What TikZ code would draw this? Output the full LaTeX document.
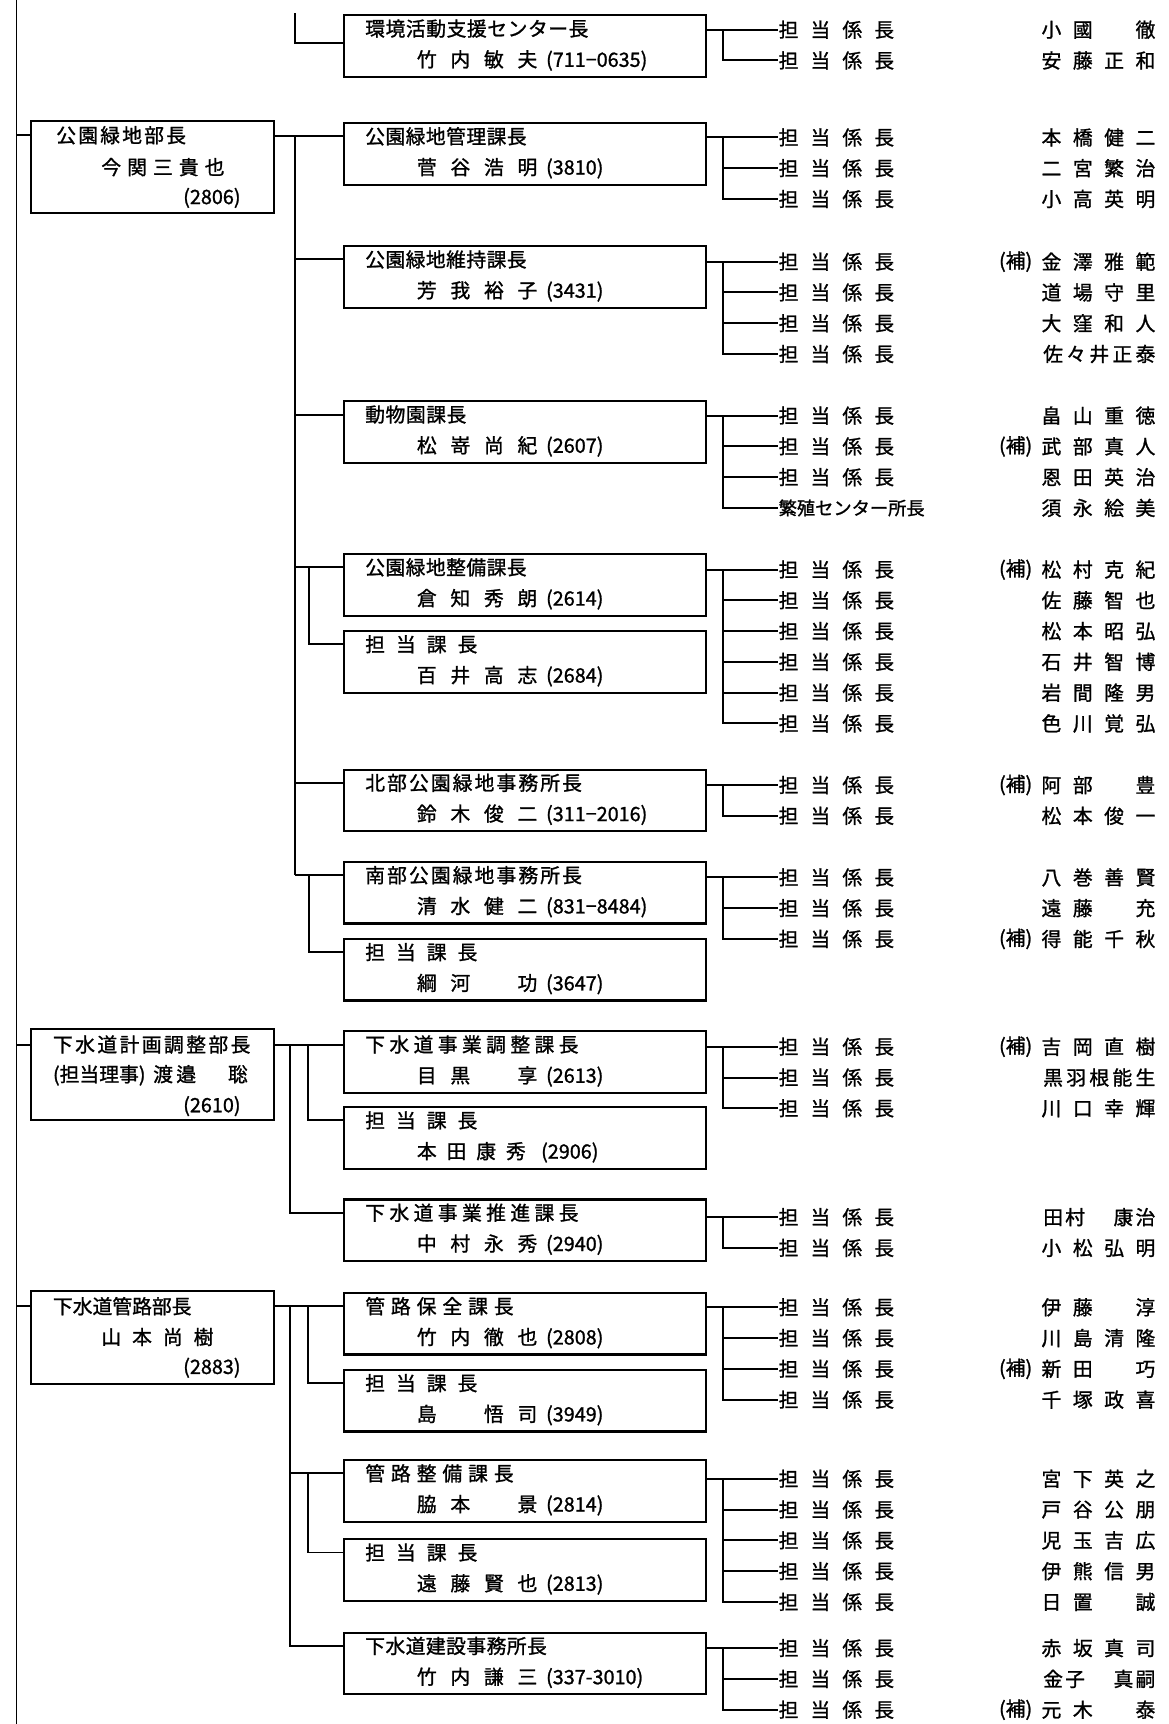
\documentclass[tikz,border=0pt]{standalone}
\usepackage{fontspec}
\newfontfamily\jp[FakeBold=1.2]{Noto Sans CJK JP}
\makeatletter
\def\sp@end{\sp@end}
\newcommand\spaced[2]{\begingroup\def\sp@gap{\hspace*{#1}}\sp@first#2\sp@end\endgroup}
\def\sp@first#1{#1\sp@next}
\def\sp@next#1{\ifx#1\sp@end\else\sp@gap#1\expandafter\sp@next\fi}
\makeatother
\newcommand\bl{\phantom{国}}
\newcommand\kk{\spaced{11pt}{担当係長}}
\newcommand\nm[1]{\spaced{10.5pt}{#1}}
\newcommand\nmf[1]{\spaced{3pt}{#1}}
\newcommand\lnm[1]{\spaced{12.5pt}{#1}}
\tikzset{
  conn/.style={line width=1.8pt},
  mainline/.style={line width=1.8pt},
  ubox/.style={draw, line width=2pt, anchor=north west, minimum width=329pt, minimum height=56pt, inner sep=0pt, outer sep=0pt},
  dbox/.style={draw, line width=2pt, anchor=north west, minimum width=221pt, inner sep=0pt, outer sep=0pt},
  txt/.style={font=\jp\fontsize{18pt}{18pt}\selectfont, inner sep=0pt, anchor=west},
  rtxt/.style={txt, anchor=east},
}
% row: id, y, name
\newcommand\kr[3]{\node[txt] (#1) at (708,#2) {\kk}; \node[rtxt] (#1n) at (1051,#2) {#3};}
\newcommand\hj[2]{\node[rtxt] (#1h) at (939,#2) {(補)};}
% unit box: id, top, header, line2
\newcommand\ubx[4]{\node[ubox] (#1) at (313,#2) {}; \node[txt] (#1h) at (332,#2+12) {#3}; \node[txt] (#1n) at (379,#2+41) {#4};}
\begin{document}
\begin{tikzpicture}[x=1pt,y=-1pt]
\useasboundingbox (0,0) rectangle (1063,1568);
% helper coordinates
\coordinate (ltop) at (15,0);
\coordinate (lbot) at (15,1568);
\coordinate (busB) at (268,0);
\coordinate (secB) at (281,0);
\coordinate (busC) at (264,0);
\coordinate (secC) at (280,0);
\coordinate (rbus) at (658,0);
\draw[mainline] (ltop) -- (lbot);

% ---------------- Section A
\ubx{bA}{14}{\spaced{0.5pt}{環境活動支援センター長}}{\lnm{竹内敏夫}\hspace{8pt}(711−0635)}
\coordinate (aTop) at (268,12);
\coordinate (aJ) at (268,39);
\draw[conn] (aTop) -- (aJ) -- (aJ -| bA.west);
\kr{rA1}{27}{\nm{小國\bl 徹}}
\kr{rA2}{55}{\nm{安藤正和}}
\draw[conn] (bA.east |- rA1.west) -- (rA1.west);
\draw[conn] (rbus |- rA1.west) |- (rA2.west);

% ---------------- Section B
\node[dbox, minimum height=84pt] (dB) at (28,110) {};
\node[txt] (dBh) at (51,123) {\spaced{2pt}{公園緑地部長}};
\node[txt] (dBn) at (92,152) {\spaced{5.5pt}{今関三貴也}};
\node[rtxt] (dBt) at (219,180) {(2806)};
\draw[conn] (ltop |- dBh.west) -- (dB.west |- dBh.west);

\ubx{bB1}{112}{\spaced{0.4pt}{公園緑地管理課長}}{\lnm{菅谷浩明}\hspace{8pt}(3810)}
\ubx{bB2}{224}{\spaced{0.4pt}{公園緑地維持課長}}{\lnm{芳我裕子}\hspace{8pt}(3431)}
\ubx{bB3}{365}{\spaced{0.5pt}{動物園課長}}{\lnm{松嵜尚紀}\hspace{8pt}(2607)}
\ubx{bB4}{504}{\spaced{0.4pt}{公園緑地整備課長}}{\lnm{倉知秀朗}\hspace{8pt}(2614)}
\ubx{bB5}{574}{\spaced{10pt}{担当課長}}{\lnm{百井高志}\hspace{8pt}(2684)}
\ubx{bB6}{700}{\spaced{1.9pt}{北部公園緑地事務所長}}{\lnm{鈴木俊二}\hspace{8pt}(311−2016)}
\ubx{bB7}{784}{\spaced{1.9pt}{南部公園緑地事務所長}}{\lnm{清水健二}\hspace{8pt}(831−8484)}
\ubx{bB8}{854}{\spaced{10pt}{担当課長}}{\lnm{綱河\bl 功}\hspace{8pt}(3647)}

\draw[conn] (dB.east |- bB1h.west) -- (bB1.west |- bB1h.west);
\draw[conn] (busB |- bB1h.west) -- (busB |- bB7h.west);
\draw[conn] (busB |- bB2h.west) -- (bB2.west |- bB2h.west);
\draw[conn] (busB |- bB3h.west) -- (bB3.west |- bB3h.west);
\draw[conn] (busB |- bB4h.west) -- (bB4.west |- bB4h.west);
\draw[conn] (busB |- bB6h.west) -- (bB6.west |- bB6h.west);
\draw[conn] (busB |- bB7h.west) -- (bB7.west |- bB7h.west);
\draw[conn] (secB |- bB4h.west) |- (bB5.west |- bB5h.west);
\draw[conn] (secB |- bB7h.west) |- (bB8.west |- bB8h.west);

% rows B1
\kr{rB1a}{125}{\nm{本橋健二}}
\kr{rB1b}{153}{\nm{二宮繁治}}
\kr{rB1c}{181}{\nm{小高英明}}
\draw[conn] (bB1.east |- rB1a.west) -- (rB1a.west);
\draw[conn] (rbus |- rB1a.west) |- (rB1c.west);
\draw[conn] (rbus |- rB1b.west) -- (rB1b.west);
% rows B2
\kr{rB2a}{238}{\nm{金澤雅範}} \hj{rB2a}{238}
\kr{rB2b}{266}{\nm{道場守里}}
\kr{rB2c}{294}{\nm{大窪和人}}
\kr{rB2d}{322}{\nmf{佐々井正泰}}
\draw[conn] (bB2.east |- rB2a.west) -- (rB2a.west);
\draw[conn] (rbus |- rB2a.west) |- (rB2d.west);
\draw[conn] (rbus |- rB2b.west) -- (rB2b.west);
\draw[conn] (rbus |- rB2c.west) -- (rB2c.west);
% rows B3
\kr{rB3a}{378}{\nm{畠山重徳}}
\kr{rB3b}{406}{\nm{武部真人}} \hj{rB3b}{406}
\kr{rB3c}{434}{\nm{恩田英治}}
\node[txt, font=\jp\fontsize{16.6pt}{17pt}\selectfont] (rB3d) at (708,462) {繁殖センター所長};
\node[rtxt] (rB3dn) at (1051,462) {\nm{須永絵美}};
\draw[conn] (bB3.east |- rB3a.west) -- (rB3a.west);
\draw[conn] (rbus |- rB3a.west) |- (rB3d.west);
\draw[conn] (rbus |- rB3b.west) -- (rB3b.west);
\draw[conn] (rbus |- rB3c.west) -- (rB3c.west);
% rows B4
\kr{rB4a}{518}{\nm{松村克紀}} \hj{rB4a}{518}
\kr{rB4b}{546}{\nm{佐藤智也}}
\kr{rB4c}{574}{\nm{松本昭弘}}
\kr{rB4d}{602}{\nm{石井智博}}
\kr{rB4e}{630}{\nm{岩間隆男}}
\kr{rB4f}{658}{\nm{色川覚弘}}
\draw[conn] (bB4.east |- rB4a.west) -- (rB4a.west);
\draw[conn] (rbus |- rB4a.west) |- (rB4f.west);
\foreach \r in {rB4b,rB4c,rB4d,rB4e} \draw[conn] (rbus |- \r.west) -- (\r.west);
% rows B6
\kr{rB6a}{714}{\nm{阿部\bl 豊}} \hj{rB6a}{714}
\kr{rB6b}{742}{\nm{松本俊一}}
\draw[conn] (bB6.east |- rB6a.west) -- (rB6a.west);
\draw[conn] (rbus |- rB6a.west) |- (rB6b.west);
% rows B7
\kr{rB7a}{798}{\nm{八巻善賢}}
\kr{rB7b}{826}{\nm{遠藤\bl 充}}
\kr{rB7c}{854}{\nm{得能千秋}} \hj{rB7c}{854}
\draw[conn] (bB7.east |- rB7a.west) -- (rB7a.west);
\draw[conn] (rbus |- rB7a.west) |- (rB7c.west);
\draw[conn] (rbus |- rB7b.west) -- (rB7b.west);

% ---------------- Section C
\node[dbox, minimum height=83pt] (dC) at (28,936) {};
\node[txt] (dCh) at (48,950) {\spaced{2.2pt}{下水道計画調整部長}};
\node[txt] (dCn) at (48,978) {(担当理事)\hspace{7pt}\spaced{3pt}{渡邉}\hspace{29pt}聡};
\node[rtxt] (dCt) at (219,1006) {(2610)};
\draw[conn] (ltop |- dCh.west) -- (dC.west |- dCh.west);

\ubx{bC1}{938}{\spaced{4pt}{下水道事業調整課長}}{\lnm{目黒\bl 享}\hspace{8pt}(2613)}
\ubx{bC2}{1007}{\spaced{10pt}{担当課長}}{\spaced{9pt}{本田康秀}\hspace{14pt}(2906)}
\ubx{bC3}{1091}{\spaced{4pt}{下水道事業推進課長}}{\lnm{中村永秀}\hspace{8pt}(2940)}

\draw[conn] (dC.east |- bC1h.west) -- (bC1.west |- bC1h.west);
\draw[conn] (busC |- bC1h.west) |- (bC3.west |- bC3h.west);
\draw[conn] (secC |- bC1h.west) |- (bC2.west |- bC2h.west);

\kr{rC1a}{952}{\nm{吉岡直樹}} \hj{rC1a}{952}
\kr{rC1b}{980}{\nmf{黒羽根能生}}
\kr{rC1c}{1008}{\nm{川口幸輝}}
\draw[conn] (bC1.east |- rC1a.west) -- (rC1a.west);
\draw[conn] (rbus |- rC1a.west) |- (rC1c.west);
\draw[conn] (rbus |- rC1b.west) -- (rC1b.west);
\kr{rC3a}{1107}{\spaced{2pt}{田村}\hspace{26pt}\spaced{2pt}{康治}}
\kr{rC3b}{1135}{\nm{小松弘明}}
\draw[conn] (bC3.east |- rC3a.west) -- (rC3a.west);
\draw[conn] (rbus |- rC3a.west) |- (rC3b.west);

% ---------------- Section D
\node[dbox, minimum height=85pt] (dD) at (28,1174) {};
\node[txt] (dDh) at (48,1188) {下水道管路部長};
\node[txt] (dDn) at (92,1216) {\spaced{10pt}{山本尚樹}};
\node[rtxt] (dDt) at (219,1244) {(2883)};
\draw[conn] (ltop |- dDh.west) -- (dD.west |- dDh.west);

\ubx{bD1}{1176}{\spaced{5.4pt}{管路保全課長}}{\lnm{竹内徹也}\hspace{8pt}(2808)}
\ubx{bD2}{1246}{\spaced{10pt}{担当課長}}{\lnm{島\bl 悟司}\hspace{8pt}(3949)}
\ubx{bD3}{1328}{\spaced{5.4pt}{管路整備課長}}{\lnm{脇本\bl 景}\hspace{8pt}(2814)}
\ubx{bD4}{1400}{\spaced{10pt}{担当課長}}{\lnm{遠藤賢也}\hspace{8pt}(2813)}
\ubx{bD5}{1485}{\spaced{0.4pt}{下水道建設事務所長}}{\lnm{竹内謙三}\hspace{8pt}(337-3010)}

\draw[conn] (dD.east |- bD1h.west) -- (bD1.west |- bD1h.west);
\draw[conn] (busC |- bD1h.west) |- (bD5.west |- bD5h.west);
\draw[conn] (busC |- bD3h.west) -- (bD3.west |- bD3h.west);
\draw[conn] (secC |- bD1h.west) |- (bD2.west |- bD2h.west);
\draw[conn] (secC |- bD3h.west) |- (bD4.west |- bD4h.west);

\kr{rD1a}{1189}{\nm{伊藤\bl 淳}}
\kr{rD1b}{1217}{\nm{川島清隆}}
\kr{rD1c}{1245}{\nm{新田\bl 巧}} \hj{rD1c}{1245}
\kr{rD1d}{1273}{\nm{千塚政喜}}
\draw[conn] (bD1.east |- rD1a.west) -- (rD1a.west);
\draw[conn] (rbus |- rD1a.west) |- (rD1d.west);
\draw[conn] (rbus |- rD1b.west) -- (rD1b.west);
\draw[conn] (rbus |- rD1c.west) -- (rD1c.west);

\kr{rD3a}{1345}{\nm{宮下英之}}
\kr{rD3b}{1373}{\nm{戸谷公朋}}
\kr{rD3c}{1401}{\nm{児玉吉広}}
\kr{rD3d}{1429}{\nm{伊熊信男}}
\kr{rD3e}{1457}{\nm{日置\bl 誠}}
\draw[conn] (bD3.east |- rD3a.west) -- (rD3a.west);
\draw[conn] (rbus |- rD3a.west) |- (rD3e.west);
\foreach \r in {rD3b,rD3c,rD3d} \draw[conn] (rbus |- \r.west) -- (\r.west);

\kr{rD5a}{1499}{\nm{赤坂真司}}
\kr{rD5b}{1527}{\spaced{2pt}{金子}\hspace{26pt}\spaced{2pt}{真嗣}}
\kr{rD5c}{1555}{\nm{元木\bl 泰}} \hj{rD5c}{1555}
\draw[conn] (bD5.east |- rD5a.west) -- (rD5a.west);
\draw[conn] (rbus |- rD5a.west) |- (rD5c.west);
\draw[conn] (rbus |- rD5b.west) -- (rD5b.west);
\end{tikzpicture}
\end{document}
